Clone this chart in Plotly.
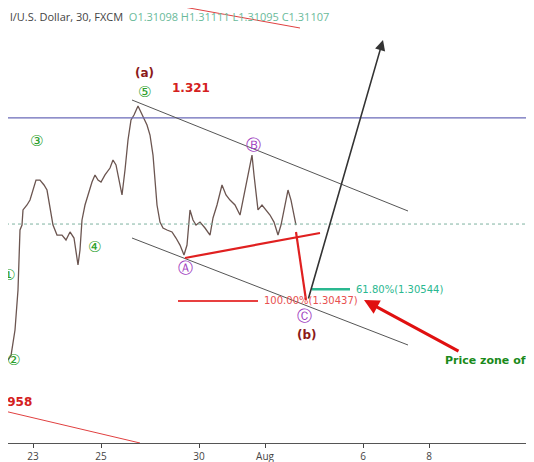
import plotly.graph_objects as go

# x positions are in chart "session" units (trading time, weekends removed)
path_x = [0,5,8,11,15,18,20,22,23,27,30,33,36,40,44,47,50,53,57,62,66,70,74,78,80,82,85,88,92,95,98,101,105,110,113,116,120,122,125,128,131,134,138,140,144,147,150,153,155,157,160,163,167,172,176,180,184,187,190,193,196,200,205,210,213,217,222,226,230,235,240,243,246,249,252,254,256,258,262,266,270,274,278,281,284,288,291,294,296]
path_p = [1.30264,1.29991,1.29900,1.29940,1.30173,1.30537,1.31082,1.31127,1.31264,1.31309,1.31354,1.31445,1.31536,1.31536,1.31491,1.31445,1.31264,1.31127,1.31036,1.31036,1.30991,1.31064,1.31009,1.30764,1.30900,1.31173,1.31309,1.31400,1.31518,1.31582,1.31536,1.31518,1.31582,1.31645,1.31718,1.31673,1.31491,1.31400,1.31627,1.31900,1.32082,1.32127,1.32209,1.32172,1.32100,1.32036,1.31945,1.31763,1.31536,1.31309,1.31154,1.31100,1.31082,1.31064,1.31009,1.30945,1.30855,1.30945,1.31264,1.31173,1.31127,1.31154,1.31100,1.31036,1.31191,1.31309,1.31491,1.31400,1.31354,1.31309,1.31218,1.31354,1.31491,1.31627,1.31763,1.31582,1.31400,1.31264,1.31309,1.31264,1.31218,1.31154,1.31036,1.31127,1.31264,1.31445,1.31354,1.31218,1.31127]

tick_x = [33,101,199,265,363,429]
tick_text = ["23","25","30","Aug","6","8"]

level_top = 1.321
level_fib100 = 1.30437
level_fib618 = 1.30544
level_low = 1.2958
last_price = 1.31136

Y0, K = 1.33172, 11004.0
def P(ypx):
    return Y0 - ypx / K

fig = go.Figure()
fig.add_trace(go.Scatter(x=path_x, y=path_p, mode="lines",
                         line=dict(color="#6b5550", width=1.3), hoverinfo="skip"))

def seg(x0, y0, x1, y1, color, width=1):
    fig.add_shape(type="line", x0=x0, y0=y0, x1=x1, y1=y1, line=dict(color=color, width=width))

seg(0, level_top, 540, level_top, "#6a6ab8", 1.2)
fig.add_shape(type="line", x0=0, x1=540, y0=last_price, y1=last_price,
              line=dict(color="#7fb3a0", width=1, dash="dot"))
seg(132, P(100), 408, P(211), "#555555", 1)
seg(132, P(238), 408, P(345), "#555555", 1)
seg(185, P(258), 320, P(233), "#e02020", 2.2)
seg(296, P(232), 306, P(300), "#e02020", 2.2)
seg(178, level_fib100, 258, level_fib100, "#e84040", 2)
seg(312, level_fib618, 350, level_fib618, "#2ab890", 2.5)
seg(145, P(0), 300, P(28), "#e04040", 1)
seg(0, P(410), 140, P(443), "#e04040", 1)

fig.add_annotation(x=383, y=P(40), ax=308, ay=P(300), xref="x", yref="y", axref="x", ayref="y",
                   showarrow=True, arrowhead=2, arrowsize=1.3, arrowwidth=1.6, arrowcolor="#333333", text="")
fig.add_annotation(x=364, y=P(300), ax=460, ay=P(352), xref="x", yref="y", axref="x", ayref="y",
                   showarrow=True, arrowhead=2, arrowsize=1, arrowwidth=3, arrowcolor="#e01010", text="")

def txt(x, y, s, color, size=12, bold=False, xanchor="center"):
    fig.add_annotation(x=x, y=y, text=("<b>%s</b>" % s) if bold else s, showarrow=False,
                       font=dict(color=color, size=size, family="DejaVu Sans"), xanchor=xanchor)

txt(144, P(73), "(a)", "#8b1a1a", 12, True)
txt(170, P(88), "1.321", "#d42020", 12, True, "left")
txt(307, P(335), "(b)", "#8b1a1a", 12, True)
txt(34, P(402), "1.2958", "#d42020", 12, True, "right")
txt(262, level_fib100, "100.00%(1.30437)", "#e85050", 10, False, "left")
txt(354, level_fib618, "61.80%(1.30544)", "#2ab890", 10, False, "left")
txt(443, P(360), "Price zone of interest", "#1a8a1a", 11, True, "left")
for x, y, s in [(144, 92, "⑤"), (36, 141, "③"), (94, 247, "④"), (13, 360, "②"), (8, 275, "①")]:
    txt(x, P(y), s, "#2aa02a", 15)
for x, y, s in [(185, 268, "Ⓐ"), (253, 145, "Ⓑ"), (304, 316, "Ⓒ")]:
    txt(x, P(y), s, "#a040c0", 15)

fig.add_annotation(x=0, y=P(16), xref="paper", yref="y", showarrow=False, xanchor="left",
                   text="<span style='color:#444'>l/U.S. Dollar, 30, FXCM</span>  "
                        "<span style='color:#6aba9a'>O1.31098 H1.31111 L1.31095 C1.31107</span>",
                   font=dict(size=11, family="Open Sans"))

fig.update_layout(width=526, height=454, margin=dict(l=0, r=0, t=0, b=19, autoexpand=False),
                  plot_bgcolor="white", paper_bgcolor="white", showlegend=False,
                  xaxis=dict(range=[8, 534], tickvals=tick_x, ticktext=tick_text, showgrid=False,
                             zeroline=False, showline=True, linecolor="#555", ticks="outside",
                             ticklen=4, tickfont=dict(size=10, color="#444")),
                  yaxis=dict(range=[P(443), P(8)], visible=False, showgrid=False))
fig.write_html("out.html")
